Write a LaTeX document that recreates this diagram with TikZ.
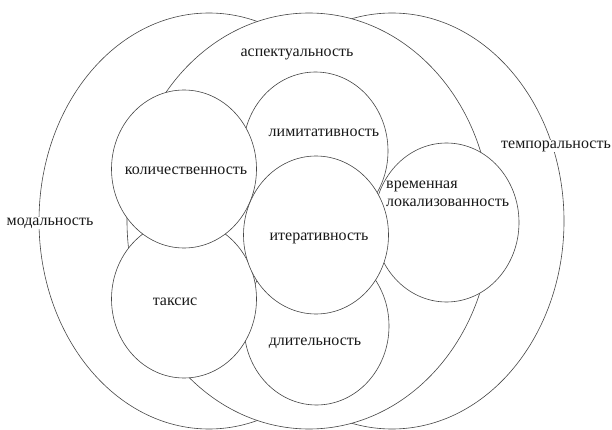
\documentclass[tikz,border=0pt]{standalone}
\usepackage{fontspec}
\setmainfont{Liberation Serif}
\definecolor{lineGray}{RGB}{70, 70, 70}
\definecolor{textGray}{RGB}{25, 25, 25}

\begin{document}
\begin{tikzpicture}[x=1pt, y=-1pt,
    area/.style={draw=lineGray, line width=0.6pt, fill=white},
    lbl/.style={text=textGray, font=\fontsize{16}{18}\selectfont, inner sep=1pt}]
  \useasboundingbox (0,0) rectangle (612,430);

  % Outer fields: modality, temporality, aspectuality
  \draw[area] (209,221) ellipse (170pt and 208pt);
  \draw[area] (392,221) ellipse (172pt and 208pt);
  \draw[area] (309,221) ellipse (182pt and 208pt);

  % Inner categories, back to front
  \draw[area] (315.5,151) ellipse (72.5pt and 79pt);
  \draw[area] (316.5,326) ellipse (72.5pt and 79pt);
  \draw[area] (446.5,222.5) ellipse (72.5pt and 79.5pt);
  \draw[area] (184,299) ellipse (72.5pt and 79pt);
  \draw[area] (184,169) ellipse (72.5pt and 79pt);
  \draw[area] (316,235) ellipse (72.5pt and 79pt);

  % Labels
  \node[lbl, fill=white] (modal) at (50,223) {модальность};
  \node[lbl, fill=white] (tempo) at (556,146) {темпоральность};
  \node[lbl] (aspekt) at (297,54) {аспектуальность};
  \node[lbl] (limit) at (324,133) {лимитативность};
  \node[lbl] (kolich) at (186,171) {количественность};
  \node[lbl] (iter) at (319,238) {итеративность};
  \node[lbl] (taksis) at (175,302) {таксис};
  \node[lbl] (dlit) at (315,343) {длительность};
  \node[lbl, align=left, anchor=west] (lokal) at (385,194) {временная\\локализованность};
\end{tikzpicture}
\end{document}
